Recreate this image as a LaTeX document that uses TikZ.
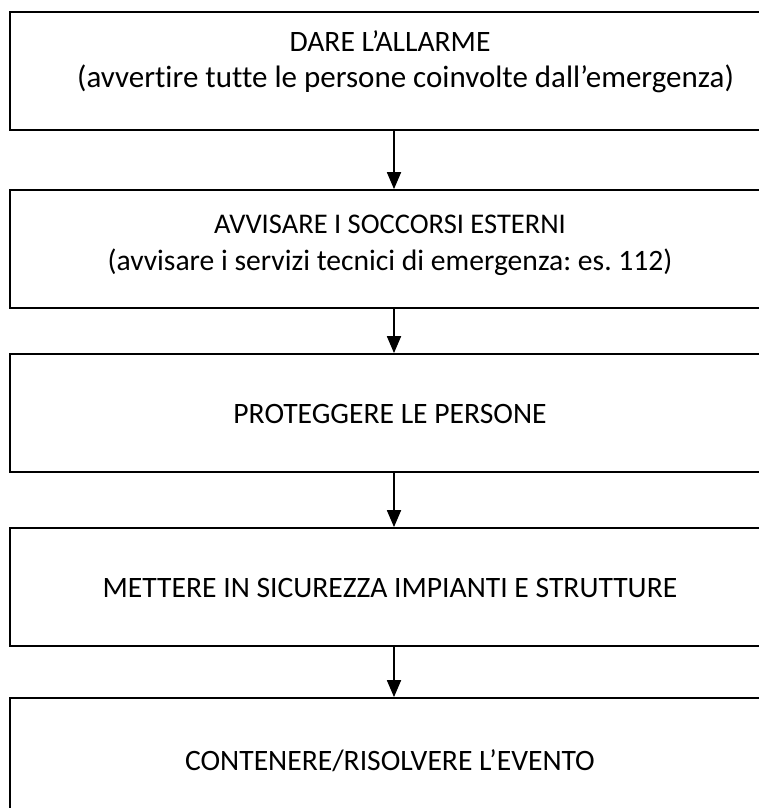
\documentclass[tikz,border=0pt]{standalone}
\usepackage{fontspec}
\setmainfont{Carlito}[Ligatures={NoCommon}]
\usetikzlibrary{arrows.meta}
\tikzset{
  stepbox/.style={draw=black, line width=1.8pt, rectangle, minimum width=768pt, minimum height=118pt, inner sep=0pt},
  steptext/.style={anchor=base, inner sep=0pt, font=\fontsize{29.6}{35}\selectfont\frenchspacing},
  flow/.style={line width=1.8pt, -{Triangle[width=14pt,length=17pt]}}
}
\begin{document}
\begin{tikzpicture}[x=1pt,y=1pt]
\useasboundingbox (0,0) rectangle (759,-808);
\clip (0,0) rectangle (759,-808);
\node[stepbox] (b1) at (394,-71) {};
\node[stepbox] (b2) at (394,-249) {};
\node[stepbox] (b3) at (394,-413) {};
\node[stepbox] (b4) at (394,-587) {};
\node[stepbox] (b5) at (394,-757) {};
\node[steptext] (t1a) at (390,-52) {DARE L’ALLARME};
\node[steptext, anchor=base west, font=\fontsize{31}{35}\selectfont] (t1b) at (77,-88) {(avvertire tutte le persone coinvolte dall’emergenza)};
\node[steptext, font=\fontsize{28.5}{35}\selectfont] (t2a) at (390,-233) {AVVISARE I SOCCORSI ESTERNI};
\node[steptext] (t2b) at (390,-270) {(avvisare i servizi tecnici di emergenza: es. 112)};
\node[steptext] (t3) at (390,-423) {PROTEGGERE LE PERSONE};
\node[steptext] (t4) at (390,-597) {METTERE IN SICUREZZA IMPIANTI E STRUTTURE};
\node[steptext] (t5) at (390,-770) {CONTENERE/RISOLVERE L’EVENTO};
\draw[flow] (b1) -- (b2);
\draw[flow] (b2) -- (b3);
\draw[flow] (b3) -- (b4);
\draw[flow] (b4) -- (b5);
\end{tikzpicture}
\end{document}
